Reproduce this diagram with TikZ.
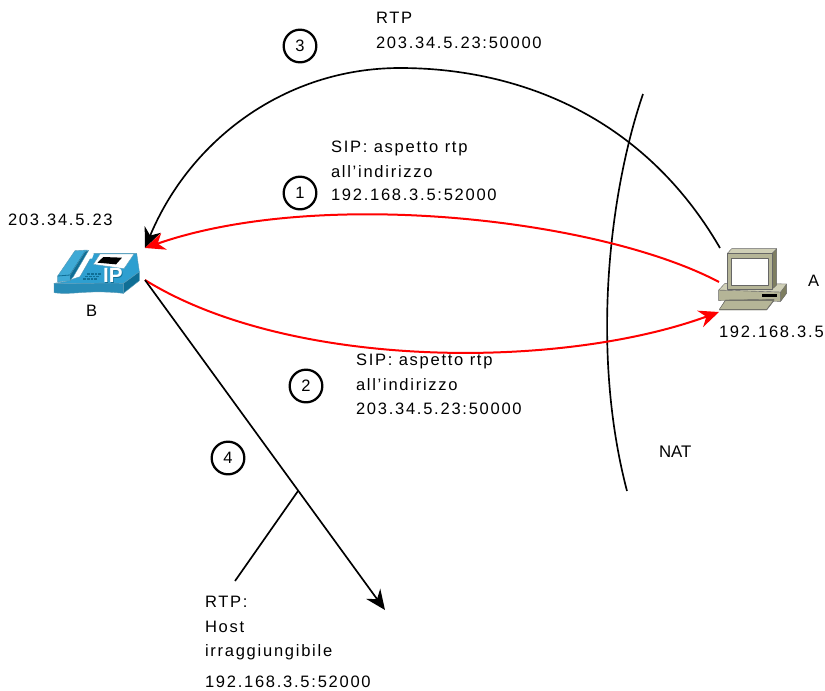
\documentclass[tikz,border=0pt]{standalone}
\usepackage{fontspec}
\setmainfont[LetterSpace=10.5]{Liberation Sans}
\newfontfamily\tightf{Liberation Sans}
\usetikzlibrary{arrows.meta}
\definecolor{phblue}{HTML}{2E9FD0}
\definecolor{phdark}{HTML}{0F6E95}
\definecolor{phlight}{HTML}{3FAAD6}
\definecolor{pcface}{HTML}{B5B597}
\definecolor{pcdark}{HTML}{7E7E60}
\definecolor{pclight}{HTML}{CFCFB6}
\tikzset{
  every node/.style={font=\fontsize{12.4pt}{14pt}\selectfont},
  lbl/.style={anchor=base west,inner sep=0pt,outer sep=0pt},
  num/.style={circle,draw=black,line width=1.7pt,minimum size=24.5pt,inner sep=0pt},
  redcurve/.style={red,line width=1.5pt,-{Stealth[length=15pt,width=13pt]}},
  blackcurve/.style={black,line width=1.25pt,-{Stealth[length=15pt,width=13pt]}},
  plain/.style={black,line width=1.25pt},
  icon/.style={draw=black!60,line width=.3pt,line join=round},
  iconb/.style={draw=phdark!70,line width=.3pt,line join=round}
}
\begin{document}
\begin{tikzpicture}[x=.75pt,y=-.75pt]
\useasboundingbox (0,0) rectangle (825,690);
% coordinates
\coordinate (Barr) at (145,248);
\coordinate (Bout) at (145,280);
\coordinate (Atop) at (720,248);
\coordinate (Ain) at (719,282);
\coordinate (Aarr) at (719,312);
\coordinate (lost) at (385,610);
\coordinate (natT) at (643,94);
\coordinate (natB) at (627,491);
\coordinate (lead) at (298,491);
\coordinate (leadE) at (235,581);
% phone
\begin{scope}[shift={(30,220)},scale=1/3]
\path[iconb,fill=phdark] (280,190) -- (328,155) -- (328,182) -- (280,220) -- cycle;
\path[iconb,fill=phblue] (72,190) -- (105,185) -- (150,170) -- (190,100) -- (320,100) -- (328,155) -- (280,190) .. controls (200,188) and (150,192) .. (72,190) -- cycle;
\path[iconb,fill=phblue!88!black] (72,190) -- (72,218) .. controls (130,226) and (170,208) .. (280,220) -- (280,190) .. controls (200,188) and (150,192) .. (72,190) -- cycle;
\path[iconb,fill=phlight] (83,186) -- (83,168) -- (135,92) -- (172,90) -- (125,170) -- (120,182) -- cycle;
\draw[phdark,line width=.6pt] (83,168) -- (120,165) -- (165,95);
\path[iconb,fill=phdark] (120,182) -- (120,165) -- (165,95) -- (176,91) -- (130,170) -- cycle;
\fill[white] (180,100) -- (192,100) -- (186,116) -- (180,116) -- cycle;
\path[iconb,fill=white] (190,133) -- (210,102) -- (312,102) -- (282,146) -- cycle;
\fill[black] (202,128) -- (220,111) -- (276,113) -- (258,133) -- cycle;
\foreach \r in {0,1,2} \foreach \c in {0,...,3}
  \fill[phdark] ({172+\c*11-\r*6},{159+\r*8}) rectangle ++(8,5);
\node[name=ipshadow,text=phdark,inner sep=0pt,font=\tightf\bfseries\fontsize{15.5pt}{15pt}\selectfont] at (251,169) {IP};
\node[name=ipmark,text=white,inner sep=0pt,font=\tightf\bfseries\fontsize{15.5pt}{15pt}\selectfont] at (249,167) {IP};
\node[name=phone,inner sep=0pt,minimum width=80pt,minimum height=50pt] at (200,155) {};
\end{scope}
% computer
\begin{scope}[shift={(690,230)},scale=1/3]
\path[icon,fill=pcdark] (270,162) -- (290,162) -- (290,190) -- (272,214) -- cycle;
\path[icon,fill=pcface] (86,180) -- (272,186) -- (272,214) -- (86,212) -- cycle;
\path[icon,fill=pclight] (86,180) -- (105,160) -- (290,162) -- (272,186) -- cycle;
\fill[black] (216,191) rectangle (260,200);
\path[icon,fill=pcdark] (246,70) -- (260,56) -- (260,165) -- (246,178) -- cycle;
\path[icon,fill=pclight] (112,70) -- (125,56) -- (260,56) -- (246,70) -- cycle;
\path[icon,fill=pcface] (112,70) rectangle (246,178);
\path[icon,fill=white] (125,84) rectangle (236,165);
\path[icon,fill=pcdark] (88,240) -- (230,240) -- (252,212) -- (252,208) -- (106,210) -- cycle;
\path[icon,fill=pcface] (88,238) -- (106,212) -- (250,212) -- (230,238) -- cycle;
\node[name=computer,inner sep=0pt,minimum width=45pt,minimum height=50pt] at (190,148) {};
\end{scope}
% connectors
\draw[plain] (natT) .. controls (610,190) and (590,350) .. (natB);
\draw[blackcurve] (Atop) .. controls (640,110) and (510,68) .. (400,68) .. controls (285,68) and (190,140) .. (Barr);
\draw[redcurve] (Ain) .. controls (600,219) and (320,187) .. (Barr);
\draw[redcurve] (Bout) .. controls (290,370) and (560,370) .. (Aarr);
\draw[blackcurve] (Bout) -- (lost);
\draw[plain] (lead) -- (leadE);
% numbers
\node[num] (n3) at (300,46) {3};
\node[num] (n1) at (300,193) {1};
\node[num] (n2) at (306,386) {2};
\node[num] (n4) at (228,458) {4};
% labels
\node[lbl] (t1) at (376,23) {RTP};
\node[lbl] (t2) at (376,48) {203.34.5.23:50000};
\node[lbl] (t3) at (331,152) {SIP: aspetto rtp};
\node[lbl] (t4) at (331,177) {all’indirizzo};
\node[lbl] (t5) at (331,200) {192.168.3.5:52000};
\node[lbl] (t6) at (8,225) {203.34.5.23};
\node[lbl] (t7) at (86,316) {B};
\node[lbl] (t8) at (808,286) {A};
\node[lbl] (t9) at (719,337) {192.168.3.5};
\node[lbl] (t10) at (356,365) {SIP: aspetto rtp};
\node[lbl] (t11) at (356,390) {all’indirizzo};
\node[lbl] (t12) at (356,414) {203.34.5.23:50000};
\node[lbl,font=\tightf\fontsize{12.6pt}{14pt}\selectfont] (t13) at (659,457) {NAT};
\node[lbl] (t14) at (205,607) {RTP:};
\node[lbl] (t15) at (205,632) {Host};
\node[lbl] (t16) at (205,656) {irraggiungibile};
\node[lbl] (t17) at (205,687) {192.168.3.5:52000};
\end{tikzpicture}
\end{document}
